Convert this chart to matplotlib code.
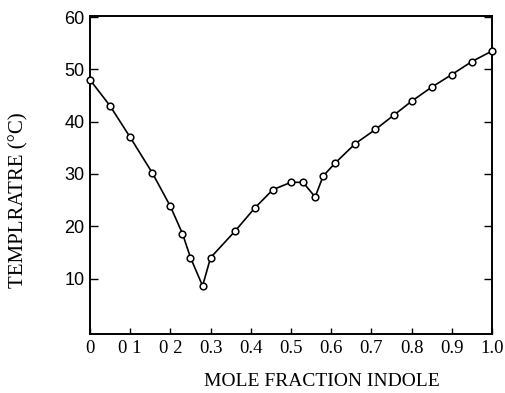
import matplotlib
matplotlib.use("Agg")
import matplotlib.pyplot as plt

# mole fraction indole vs. temperature
mole_fraction = [0.0, 0.05, 0.10, 0.155, 0.20, 0.23, 0.25, 0.28, 0.30, 0.36,
                 0.41, 0.455, 0.50, 0.53, 0.56, 0.58, 0.61, 0.66, 0.71, 0.755,
                 0.80, 0.85, 0.90, 0.95, 1.0]
temperature = [48.0, 43.0, 37.0, 30.2, 23.8, 18.6, 14.0, 8.6, 14.0, 19.0,
               23.5, 27.0, 28.4, 28.4, 25.6, 29.6, 32.1, 35.8, 38.5, 41.2,
               43.9, 46.6, 49.0, 51.5, 53.5]

y_ticks = [10, 20, 30, 40, 50, 60]
x_ticks = [0.0, 0.1, 0.2, 0.3, 0.4, 0.5, 0.6, 0.7, 0.8, 0.9, 1.0]
x_tick_labels = ["0", "0 1", "0 2", "0.3", "0.4", "0.5", "0.6", "0.7",
                 "0.8", "0.9", "1.0"]

fig = plt.figure(figsize=(5.06, 3.93), dpi=100)
ax = fig.add_axes([90 / 506, 1 - 334 / 393, 402 / 506, 318 / 393])

ax.plot(mole_fraction, temperature, color="black", linewidth=1.2,
        marker="o", markersize=4.8, markerfacecolor="white",
        markeredgecolor="black", markeredgewidth=1.1, clip_on=False, zorder=3)

ax.set_xlim(0, 1.0)
ax.set_ylim(-0.6, 60.2)

ax.set_yticks(y_ticks)
ax.set_yticklabels([str(t) for t in y_ticks], fontsize=13,
                   family="Liberation Sans")
ax.set_xticks(x_ticks)
ax.set_xticklabels(x_tick_labels, fontsize=13.5, family="Liberation Serif")

ax.tick_params(axis="y", direction="in", length=6, width=1.0, pad=4,
               right=True)
ax.tick_params(axis="x", direction="in", length=4, width=1.0, pad=4)
for side in ["left", "right", "top", "bottom"]:
    ax.spines[side].set_linewidth(1.4)

fig.text(322 / 506, 1 - 381 / 393, "MOLE FRACTION INDOLE", ha="center",
         va="center", fontsize=14, family="Liberation Serif")
fig.text(19 / 506, 1 - 200 / 393, "TEMPLRATRE (°C)", rotation=90,
         ha="center", va="center", fontsize=15, family="Liberation Serif")

fig.savefig("out.png", dpi=100)
